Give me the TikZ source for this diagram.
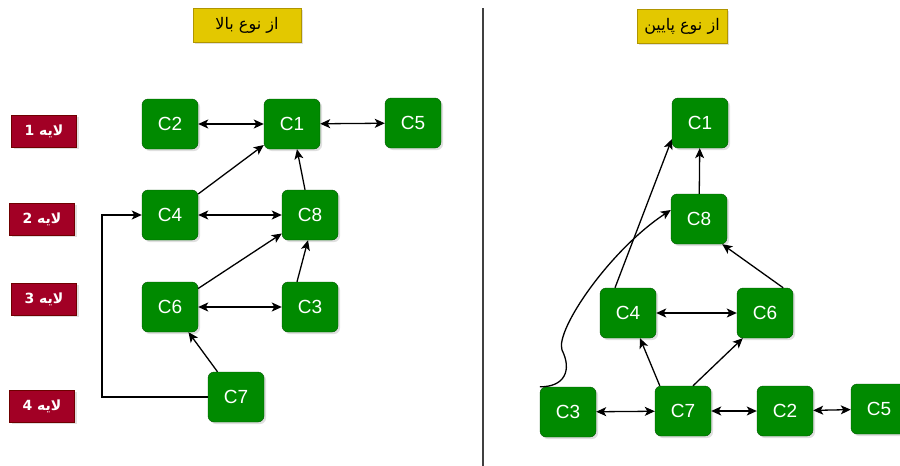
\documentclass[tikz,border=0pt]{standalone}
\usepackage{fontspec}
\setmainfont{Liberation Sans}
\newfontfamily\arabicfont[Script=Arabic]{DejaVu Sans}
\TeXXeTstate=1
\usepackage{tikz}
\usetikzlibrary{arrows.meta}
\usetikzlibrary{shadows,calc}
\definecolor{cgreen}{HTML}{008A00}
\definecolor{cgreenline}{HTML}{005700}
\definecolor{cred}{HTML}{A20025}
\definecolor{credline}{HTML}{6F0000}
\definecolor{cyellow}{HTML}{E3C800}
\definecolor{cyellowline}{HTML}{B09500}

\begin{document}
\begin{tikzpicture}[x=1pt,y=-1pt]
    \tikzstyle{dedge} = [line width=1.3pt,->,>={Stealth[length=10pt,width=9pt,inset=2.5pt]},draw=black]
    \tikzstyle{bedge} = [dedge,<->]
    \tikzstyle{shadowed}=[
      drop shadow={opacity=0.25,shadow xshift=2pt,shadow yshift=-2pt},
    ]
    \tikzstyle{cls}=[
      shadowed,
      rounded corners=6pt,
      fill=cgreen,
      draw=cgreenline,
      minimum width=56pt,
      minimum height=50pt,
      text=white,
      font=\fontsize{19}{22}\selectfont,
    ]
    \tikzstyle{layer}=[
      shadowed,
      fill=cred,
      draw=credline,
      minimum width=65pt,
      minimum height=32pt,
      text=white,
      font=\arabicfont\bfseries\fontsize{14}{17}\selectfont,
    ]
    \tikzstyle{title}=[
      shadowed,
      fill=cyellow,
      draw=cyellowline,
      minimum height=34pt,
      font=\arabicfont\fontsize{16}{19}\selectfont,
    ]

    \useasboundingbox (0,0) rectangle (900,466);
    \fill[white] (0,0) rectangle (900,466);

    % divider
    \coordinate (div top) at (483,8);
    \coordinate (div bottom) at (483,466);
    \draw[line width=2pt,draw=black!75] (div top) -- (div bottom);

    % titles
    \node[title,minimum width=108pt] (up title) at (247,25) {\beginR از نوع بالا\endR};
    \node[title,minimum width=90pt] (down title) at (682,26) {\beginR از نوع پایین\endR};

    % layers
    \node[layer] (layer 1) at (44,131) {\beginR لایه 1\endR};
    \node[layer] (layer 2) at (42,219) {\beginR لایه 2\endR};
    \node[layer] (layer 3) at (44,299) {\beginR لایه 3\endR};
    \node[layer] (layer 4) at (42,406) {\beginR لایه 4\endR};

    % left: from top
    \node[cls] (up c2) at (170,124) {C2};
    \node[cls] (up c1) at (292,124) {C1};
    \node[cls] (up c5) at (413,123) {C5};
    \node[cls] (up c4) at (170,215) {C4};
    \node[cls] (up c8) at (310,215) {C8};
    \node[cls] (up c6) at (170,307) {C6};
    \node[cls] (up c3) at (310,307) {C3};
    \node[cls] (up c7) at (236,397) {C7};
    \coordinate (up bend) at (102,397);

    \draw[bedge] (up c2)--(up c1);
    \draw[bedge] (up c1)--(up c5);
    \draw[dedge] (up c4)--(up c1);
    \draw[dedge] (up c8)--(up c1);
    \draw[bedge] (up c4)--(up c8);
    \draw[dedge] (up c6)--(up c8);
    \draw[dedge] ([xshift=-13pt]up c3.north)--([xshift=-2pt]up c8.south);
    \draw[bedge] (up c6)--(up c3);
    \draw[dedge] (up c7)--(up c6);
    \draw[dedge] (up c7.west)--(up bend)|-(up c4.west);

    % right: from bottom
    \node[cls] (down c1) at (700,123) {C1};
    \node[cls] (down c8) at (699,219) {C8};
    \node[cls] (down c4) at (628,313) {C4};
    \node[cls] (down c6) at (765,313) {C6};
    \node[cls] (down c3) at (568,412) {C3};
    \node[cls] (down c7) at (683,411) {C7};
    \node[cls] (down c2) at (785,411) {C2};
    \node[cls] (down c5) at (879,409) {C5};

    \draw[dedge] (down c8)--(down c1);
    \draw[dedge] ([xshift=-10pt]down c6.north east)--([xshift=-5pt]down c8.south east);
    \draw[bedge] (down c4)--(down c6);
    \draw[dedge] ([xshift=5pt]down c7.north west)--([xshift=12pt]down c4.south);
    \draw[dedge] ([xshift=10pt]down c7.north)--([xshift=6pt]down c6.south west);
    \draw[dedge] ([xshift=-13pt]down c4.north)--([yshift=9pt]down c1.south west);
    \draw[dedge] (down c3.north west) .. controls (565,387) and (572,370) .. (562,350)
      .. controls (555,330) and (610,250) .. ([yshift=9pt]down c8.west);
    \draw[bedge] (down c3)--(down c7);
    \draw[bedge] (down c7)--(down c2);
    \draw[bedge] (down c2)--(down c5);
\end{tikzpicture}
\end{document}
